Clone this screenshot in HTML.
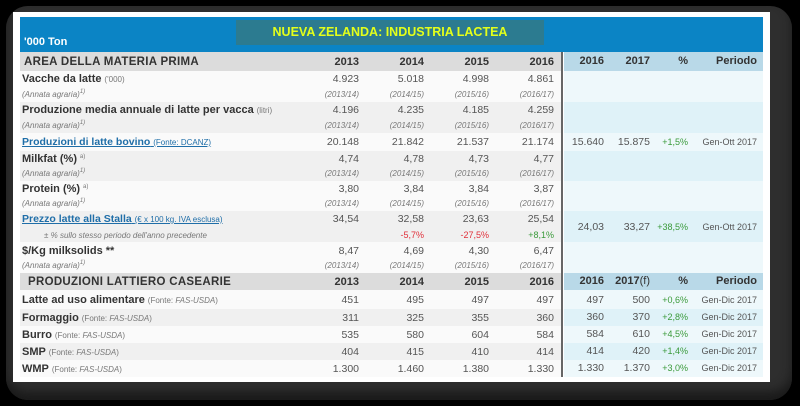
<!DOCTYPE html>
<html><head><meta charset="utf-8">
<style>
html,body{margin:0;padding:0;background:#000;width:800px;height:406px;overflow:hidden;font-family:"Liberation Sans",sans-serif;}
.abs{position:absolute;}
#frame{left:6px;top:6px;width:786px;height:394px;background:#2e2e2e;border-radius:22px;box-shadow:inset 0 -8px 10px #1a1a1a;}
#card{left:13px;top:12px;width:757px;height:370px;background:#fff;}
#hdr{left:20px;top:17px;width:743px;height:35px;background:#0b84c5;}
#title{left:236px;top:20px;width:308px;height:25px;background:#2c7b90;color:#e4ff1a;font-weight:bold;font-size:12.5px;line-height:25px;text-align:center;}
#ton{left:24px;top:36px;color:#fff;font-weight:bold;font-size:11px;}
.row{position:absolute;left:20px;width:541px;}
.rp{position:absolute;left:564px;width:199px;}
.c{position:absolute;white-space:nowrap;font-size:10.5px;color:#555;}
.lbl{font-weight:bold;color:#333;font-size:11px;}
.sub{font-style:italic;font-size:8px;color:#777;}
sup{font-size:6px;line-height:0;vertical-align:4px;}
.lnk{color:#1f6ea8;text-decoration:underline;}
.sec{font-weight:bold;color:#333;font-size:11.5px;letter-spacing:0.3px;}
.hd{font-weight:bold;color:#333;font-size:11px;}
.g{color:#3a9a3a;font-size:9px;}
.r{color:#e0303a;font-size:9px;}
</style></head><body>
<div id="frame" class="abs"></div>
<div id="card" class="abs"></div>
<div id="hdr" class="abs"></div>
<div id="title" class="abs">NUEVA ZELANDA: INDUSTRIA LACTEA</div>
<div id="ton" class="abs">'000 Ton</div>
<div id="divider" class="abs" style="left:561px;top:52px;width:2px;height:325px;background:#666;"></div>
<div id="root"></div>
<script>
const colX=[359,424,489,554];
const rX=[604,650,688,757];
const rows=[
 [52,19,'hdr1','#dcdcdc','#b9d9e8'],
 [71,16,'main','#fafafa','#eef8fb'],
 [87,15,'sub','#fafafa','#eef8fb'],
 [102,16,'main','#f0f0f0','#dff2f8'],
 [118,15,'sub','#f0f0f0','#dff2f8'],
 [133,18,'main','#fafafa','#eef8fb'],
 [151,15,'main','#f0f0f0','#dff2f8'],
 [166,15,'sub','#f0f0f0','#dff2f8'],
 [181,16,'main','#fafafa','#eef8fb'],
 [197,14,'sub','#fafafa','#eef8fb'],
 [211,16,'main','#f0f0f0','#dff2f8'],
 [227,15,'pct','#f0f0f0','#dff2f8'],
 [242,17,'main','#fafafa','#eef8fb'],
 [259,14,'sub','#fafafa','#eef8fb'],
 [273,17,'hdr2','#dcdcdc','#b9d9e8'],
 [290,19,'main','#fafafa','#eef8fb'],
 [309,17,'main','#f0f0f0','#dff2f8'],
 [326,17,'main','#fafafa','#eef8fb'],
 [343,17,'main','#f0f0f0','#dff2f8'],
 [360,17,'main','#fafafa','#eef8fb']
];
const labels=[
 '<span class="sec">AREA DELLA MATERIA PRIMA</span>',
 '<span class="lbl">Vacche da latte</span> <span class="sub" style="font-style:normal">(\'000)</span>',
 '(Annata agraria)<sup>1)</sup>',
 '<span class="lbl">Produzione media annuale di latte per vacca</span> <span class="sub" style="font-style:normal">(litri)</span>',
 '(Annata agraria)<sup>1)</sup>',
 '<span class="lnk"><b>Produzioni di latte bovino</b> <span style="font-size:8px">(Fonte: DCANZ)</span></span>',
 '<span class="lbl">Milkfat (%)</span> <span class="sub" style="font-style:normal"><sup>a)</sup></span>',
 '(Annata agraria)<sup>1)</sup>',
 '<span class="lbl">Protein (%)</span> <span class="sub" style="font-style:normal"><sup>a)</sup></span>',
 '(Annata agraria)<sup>1)</sup>',
 '<span class="lnk"><b>Prezzo latte alla Stalla</b> <span style="font-size:8px">(€ x 100 kg. IVA esclusa)</span></span>',
 '<span class="sub" style="padding-left:22px">± % sullo stesso periodo dell\'anno precedente</span>',
 '<span class="lbl">$/Kg milksolids **</span>',
 '(Annata agraria)<sup>1)</sup>',
 '<span class="sec" style="padding-left:4px">PRODUZIONI LATTIERO CASEARIE</span>',
 '<span class="lbl">Latte ad uso alimentare</span> <span class="sub" style="font-style:normal">(Fonte: <i>FAS-USDA</i>)</span>',
 '<span class="lbl">Formaggio</span> <span class="sub" style="font-style:normal">(Fonte: <i>FAS-USDA</i>)</span>',
 '<span class="lbl">Burro</span> <span class="sub" style="font-style:normal">(Fonte: <i>FAS-USDA</i>)</span>',
 '<span class="lbl">SMP</span> <span class="sub" style="font-style:normal">(Fonte: <i>FAS-USDA</i>)</span>',
 '<span class="lbl">WMP</span> <span class="sub" style="font-style:normal">(Fonte: <i>FAS-USDA</i>)</span>'
];
const yearVals=[
 ['2013','2014','2015','2016'],
 ['4.923','5.018','4.998','4.861'],
 ['(2013/14)','(2014/15)','(2015/16)','(2016/17)'],
 ['4.196','4.235','4.185','4.259'],
 ['(2013/14)','(2014/15)','(2015/16)','(2016/17)'],
 ['20.148','21.842','21.537','21.174'],
 ['4,74','4,78','4,73','4,77'],
 ['(2013/14)','(2014/15)','(2015/16)','(2016/17)'],
 ['3,80','3,84','3,84','3,87'],
 ['(2013/14)','(2014/15)','(2015/16)','(2016/17)'],
 ['34,54','32,58','23,63','25,54'],
 ['','-5,7%','-27,5%','+8,1%'],
 ['8,47','4,69','4,30','6,47'],
 ['(2013/14)','(2014/15)','(2015/16)','(2016/17)'],
 ['2013','2014','2015','2016'],
 ['451','495','497','497'],
 ['311','325','355','360'],
 ['535','580','604','584'],
 ['404','415','410','414'],
 ['1.300','1.460','1.380','1.330']
];
const rightVals=[
 [0,['2016','2017','%','Periodo'],61],
 [5,['15.640','15.875','+1,5%','Gen-Ott 2017'],142],
 [10,['24,03','33,27','+38,5%','Gen-Ott 2017'],227],
 [14,['2016','2017<span style="font-weight:normal">(f)</span>','%','Periodo'],281],
 [15,['497','500','+0,6%','Gen-Dic 2017'],300],
 [16,['360','370','+2,8%','Gen-Dic 2017'],317],
 [17,['584','610','+4,5%','Gen-Dic 2017'],334],
 [18,['414','420','+1,4%','Gen-Dic 2017'],351],
 [19,['1.330','1.370','+3,0%','Gen-Dic 2017'],368]
];
const root=document.getElementById('root');
function cell(html,x,cy,alignRight,cls){
 const d=document.createElement('div');
 d.className='c '+(cls||'');
 d.innerHTML=html;
 d.style.top=(cy-7)+'px';
 d.style.lineHeight='14px';
 if(alignRight){d.style.right=(800-x)+'px';}else{d.style.left=x+'px';}
 root.appendChild(d);
 return d;
}
rows.forEach((r,i)=>{
 const [top,h,kind,lb,rb]=r;
 const L=document.createElement('div');
 L.className='row';
 L.style.top=top+'px';L.style.height=h+'px';L.style.background=lb;
 if(kind.startsWith('hdr')) L.style.borderBottom='2px solid #b0b0b0';
 
 
 root.appendChild(L);
 const R=document.createElement('div');
 R.className='rp';
 R.style.top=top+'px';R.style.height=h+'px';R.style.background=rb;
 if(kind.startsWith('hdr')) R.style.borderBottom='2px solid #556b78';
 
 
 root.appendChild(R);
 const cy=top+h/2;
 const lab=cell(labels[i],kind.startsWith('hdr')?24:22,cy,false,kind==='sub'?'sub':'');
 
 
 yearVals[i].forEach((v,j)=>{
  let cls='';
  if(kind==='sub') cls='sub';
  if(kind.startsWith('hdr')) cls='hd';
  if(kind==='pct') cls=v.startsWith('+')?'g':'r';
  const c=cell(v,colX[j],cy,true,cls);
  
  
 });
});
rightVals.forEach(rv=>{
 const [i,vals,cy]=rv;
 const hdr=rows[i][2].startsWith('hdr');
 vals.forEach((v,j)=>{
  let cls=hdr?'hd':'';
  if(!hdr&&j===2) cls='g';
  const c=cell(v,rX[j],cy,true,cls);
  if(!hdr&&j===3){c.style.fontSize='9px';}
  
  
 });
});
</script>
</body></html>
